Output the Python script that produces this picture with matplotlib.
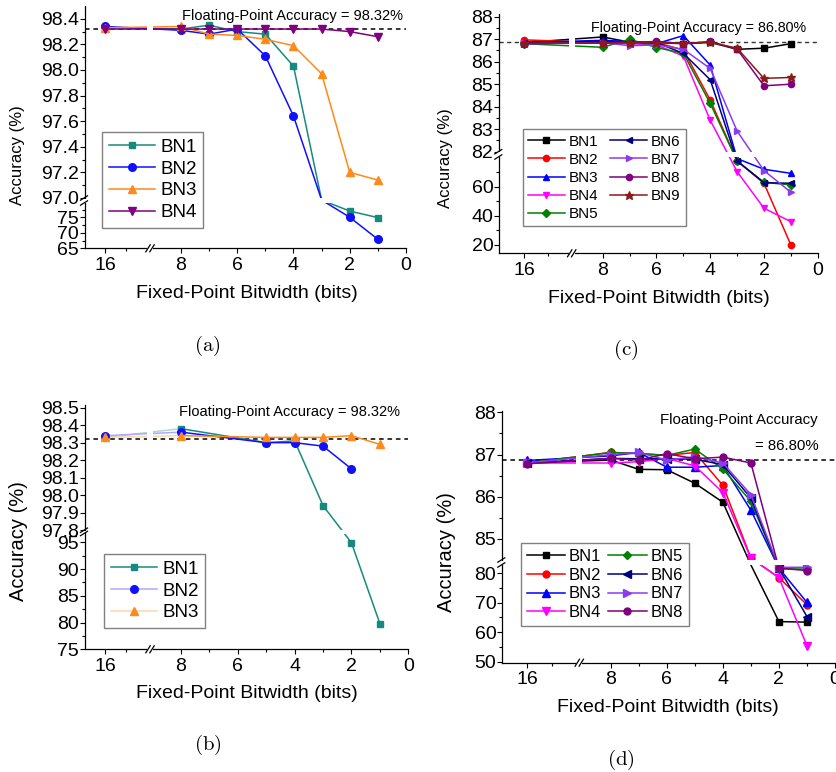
import numpy as np
import matplotlib.pyplot as plt
from matplotlib.lines import Line2D
from matplotlib.patches import Rectangle
from matplotlib.colors import to_rgb

plt.rcParams['font.family'] = ['Liberation Sans', 'DejaVu Sans']
plt.rcParams['mathtext.fontset'] = 'cm'

W, H = 836, 772

# ---- data ----
names_ab = ["BN1", "BN2", "BN3", "BN4"]
names_cd = ["BN1", "BN2", "BN3", "BN4", "BN5", "BN6", "BN7", "BN8", "BN9"]

# (a)  (value at 3 bits for BN1/BN2 lies inside the axis break)
bits_a = [16, 8, 7, 6, 5, 4, 3, 2, 1]
a_bn1 = [98.33, 98.32, 98.35, 98.30, 98.28, 98.03, 90.0, 77.0, 74.9]
a_bn2 = [98.34, 98.31, 98.28, 98.32, 98.11, 97.64, 90.0, 75.0, 67.9]
a_bn3 = [98.33, 98.34, 98.28, 98.27, 98.24, 98.19, 97.97, 97.20, 97.14]
a_bn4 = [98.32, 98.32, 98.32, 98.32, 98.32, 98.32, 98.32, 98.30, 98.26]

# (b)
bits_b = [16, 8, 5, 4, 3, 2, 1]
bits_b_bn2 = [16, 8, 5, 4, 3, 2]
b_bn1 = [98.33, 98.38, 98.30, 98.31, 97.94, 94.9, 79.8]
b_bn2 = [98.34, 98.36, 98.30, 98.30, 98.28, 98.15]
b_bn3 = [98.33, 98.34, 98.33, 98.33, 98.33, 98.34, 98.29]

# (c)
bits_cd = [16, 8, 7, 6, 5, 4, 3, 2, 1]
c_bn1 = [86.85, 87.10, 86.87, 86.85, 86.80, 86.86, 86.55, 86.60, 86.80]
c_bn2 = [86.97, 86.85, 86.85, 86.85, 86.52, 84.30, 77.6, 62.3, 20.1]
c_bn3 = [86.85, 86.95, 86.90, 86.80, 87.16, 85.85, 79.2, 71.9, 69.1]
c_bn4 = [86.82, 86.85, 86.80, 86.75, 86.25, 83.40, 70.3, 45.2, 36.0]
c_bn5 = [86.80, 86.64, 87.00, 86.63, 86.37, 84.15, 77.6, 62.9, 61.2]
c_bn6 = [86.85, 86.90, 86.85, 86.85, 86.37, 85.20, 77.6, 62.7, 62.3]
c_bn7 = [86.80, 86.85, 86.71, 86.75, 86.55, 85.70, 82.92, 71.0, 56.2]
c_bn8 = [86.80, 86.85, 86.85, 86.90, 86.80, 86.90, 86.56, 84.93, 85.00]
c_bn9 = [86.82, 86.82, 86.85, 86.85, 86.82, 86.86, 86.60, 85.26, 85.30]

# (d)
d_bn1 = [86.80, 86.87, 86.65, 86.64, 86.32, 85.87, 82.8, 63.6, 63.4]
d_bn2 = [86.80, 87.05, 87.03, 86.98, 87.05, 86.27, 84.55, 78.5, 69.3]
d_bn3 = [86.86, 86.97, 87.05, 86.70, 86.70, 86.74, 85.68, 81.7, 70.1]
d_bn4 = [86.80, 86.80, 86.83, 86.91, 86.73, 86.10, 84.54, 78.5, 55.4]
d_bn5 = [86.80, 87.05, 87.02, 86.98, 87.13, 86.66, 85.89, 81.5, 81.4]
d_bn6 = [86.80, 86.91, 86.90, 86.90, 86.89, 86.76, 85.97, 81.7, 65.3]
d_bn7 = [86.80, 87.00, 87.05, 86.87, 86.95, 86.80, 86.05, 82.0, 82.0]
d_bn8 = [86.78, 86.91, 86.87, 87.02, 86.90, 86.94, 86.80, 81.7, 80.9]

fp_ab = 98.32
fp_cd = 86.86
fp_text_ab = "Floating-Point Accuracy = 98.32%"
fp_text_c = "Floating-Point Accuracy = 86.80%"

x_major = [16, 8, 6, 4, 2, 0]
x_minor = [15, 7, 5, 3, 1]

a_yticks = [65, 70, 75, 97.0, 97.2, 97.4, 97.6, 97.8, 98.0, 98.2, 98.4]
a_ylabels = ["65", "70", "75", "97.0", "97.2", "97.4", "97.6", "97.8", "98.0", "98.2", "98.4"]
a_yminor = [67.5, 72.5, 77.5, 97.1, 97.3, 97.5, 97.7, 97.9, 98.1, 98.3]
b_yticks = [75, 80, 85, 90, 95, 97.8, 97.9, 98.0, 98.1, 98.2, 98.3, 98.4, 98.5]
b_ylabels = ["75", "80", "85", "90", "95", "97.8", "97.9", "98.0", "98.1", "98.2", "98.3", "98.4", "98.5"]
b_yminor = [77.5, 82.5, 87.5, 92.5]
c_yticks = [20, 40, 60, 82, 83, 84, 85, 86, 87, 88]
c_ylabels = ["20", "40", "60", "82", "83", "84", "85", "86", "87", "88"]
c_yminor = [30, 50, 70, 82.5, 83.5, 84.5, 85.5, 86.5, 87.5]
d_yticks = [50, 60, 70, 80, 85, 86, 87, 88]
d_ylabels = ["50", "60", "70", "80", "85", "86", "87", "88"]
d_yminor = [55, 65, 75, 85.5, 86.5, 87.5]

colors_ab = ["#178a80", "#1010ff", "#ff8a1c", "#800080"]
colors_cd = ["#000000", "#ff0000", "#0000ff", "#ff00ff", "#008000",
             "#000080", "#8c3cf0", "#800080", "#8b1a1a"]
markers = ["s", "o", "^", "v", "D", "<", ">", "o", "*"]
msizes = [4.5, 5, 5.5, 5.5, 4, 5.5, 5.5, 5, 7]

fig = plt.figure(figsize=(W / 100, H / 100), dpi=100)


def piecewise(dk, tk):
    d = np.asarray(dk, float)
    t = np.asarray(tk, float)
    s0 = (t[1] - t[0]) / (d[1] - d[0])
    s1 = (t[-1] - t[-2]) / (d[-1] - d[-2])
    d = np.r_[d[0] - 1000, d, d[-1] + 1000]
    t = np.r_[t[0] - 1000 * s0, t, t[-1] + 1000 * s1]
    return (lambda v: np.interp(v, d, t)), (lambda v: np.interp(v, t, d))


def slash(xc, yc, dx, dy):
    fig.add_artist(Line2D([(xc - dx) / W, (xc + dx) / W],
                          [1 - (yc + dy) / H, 1 - (yc - dy) / H],
                          color="k", lw=0.9, zorder=10))


def cover(x0, y0, x1, y1):
    fig.add_artist(Rectangle((x0 / W, 1 - y1 / H), (x1 - x0) / W, (y1 - y0) / H,
                             transform=fig.transFigure, color="white", lw=0, zorder=9))


def make_panel(box, xg, yg, yticks, ylabels, yminor):
    L, R, T, B = box
    p0, p8, pb, p16, sl = xg
    ax = fig.add_axes([L / W, 1 - B / H, (R - L) / W, (B - T) / H])
    s = (p0 - p8) / 8
    g = 3
    x_lo = (p0 - pb - g) / s
    x_hi = 16 - (pb - g - p16) / sl
    ax.set_xscale("function", functions=piecewise(
        [0, x_lo, x_hi, 16], [0, p0 - pb - g, p0 - pb + g, p0 - p16]))
    ax.set_xlim(16 + (p16 - L) / sl, -(R - p0) / s)
    (v0, q0), (v1, q1), (v2, q2), (v3, q3) = yg
    ax.set_yscale("function", functions=piecewise(
        [v0, v1, v2, v3], [B - q0, B - q1, B - q2, B - q3]))
    ax.set_ylim(v0, v3)

    # white gaps where the axis is broken
    ax.axvspan(x_lo, x_hi, color="white", lw=0, zorder=2.2)
    ax.axhspan(v1, v2, color="white", lw=0, zorder=2.2)

    ax.set_xticks(x_major)
    ax.set_xticklabels([str(v) for v in x_major])
    ax.set_xticks(x_minor, minor=True)
    ax.set_yticks(yticks)
    ax.set_yticklabels(ylabels)
    ax.set_yticks(yminor, minor=True)
    ax.tick_params(which="both", direction="out", width=0.8, labelsize=14)
    ax.tick_params(which="major", length=3.3)
    ax.tick_params(which="minor", length=2.0)
    ax.tick_params(axis="y", pad=1)
    ax.tick_params(axis="x", pad=3)
    for sp in ["top", "right"]:
        ax.spines[sp].set_visible(False)
    for sp in ["left", "bottom"]:
        ax.spines[sp].set_linewidth(0.9)

    # break marks on the axes
    cover(pb - 3, B - 2, pb + 3, B + 2)
    slash(pb - 2, B, 2.2, 3.5)
    slash(pb + 2, B, 2.2, 3.5)
    cover(L - 2, q2 + 0.5, L + 2, q1 - 0.5)
    slash(L - 1, q2, 3.5, 2.2)
    slash(L - 1, q1, 3.5, 2.2)
    return ax, v1, v2


def draw_series(ax, x, y, color, marker, ms, label, gap):
    lo, hi = gap
    show = [not (lo < v < hi) for v in y]
    ax.plot(x, y, color=color, lw=1.1, marker=marker, ms=ms, markevery=show,
            label=label, zorder=2)


def legend(ax, x, y, size, ncol, hl, ls, cs=0.8, handles=None):
    kw = dict(loc="upper left", bbox_to_anchor=(x / W, 1 - y / H),
              bbox_transform=fig.transFigure, borderaxespad=0, fancybox=False,
              edgecolor="#808080", framealpha=1, fontsize=size, ncol=ncol,
              handlelength=hl, handletextpad=0.25, labelspacing=ls,
              borderpad=0.35, columnspacing=cs)
    if handles is not None:
        leg = ax.legend(handles=handles, **kw)
    else:
        leg = ax.legend(**kw)
    leg.get_frame().set_linewidth(1.0)
    return leg


def ftext(x, y, s, size, ha="center", rot=0, **kw):
    fig.text(x / W, 1 - y / H, s, fontsize=size, ha=ha, va="center", rotation=rot, **kw)


# ---------------- (a) ----------------
ax, g0, g1 = make_panel((85, 406, 6, 248.3), (406, 181, 150, 105.3, 21),
                        [(65, 248.3), (79.6, 203), (97.0, 198), (98.5, 6)],
                        a_yticks, a_ylabels, a_yminor)
ax.axhline(fp_ab, color="k", lw=1.1, ls=(0, (3, 2.5)), zorder=1.9)
for i, vals in enumerate([a_bn1, a_bn2, a_bn3, a_bn4]):
    draw_series(ax, bits_a, vals, colors_ab[i], ["s", "o", "^", "v"][i],
                [4.5, 5.5, 5.5, 5.5][i], names_ab[i], (g0, g1))
legend(ax, 102, 132, 13.5, 1, 2.5, 0.25)
ftext(403, 15.7, fp_text_ab, 10.5, ha="right")
ftext(18, 155, "Accuracy (%)", 12, rot=90)
ftext(247, 294, "Fixed-Point Bitwidth (bits)", 14)
ftext(207, 346, r"$\mathrm{(a)}$", 15)

# ---------------- (b) ----------------
ax, g0, g1 = make_panel((85, 408.3, 405, 649.3), (408.3, 181, 150, 105.3, 21),
                        [(75, 649.3), (96.64, 533.5), (97.8, 530.2), (98.515, 405)],
                        b_yticks, b_ylabels, b_yminor)
ax.axhline(fp_ab, color="k", lw=1.1, ls=(0, (3, 2.5)), zorder=1.9)


def pale(c, k=0.35):
    r = np.array(to_rgb(c))
    return tuple(k * r + (1 - k) * np.ones(3))


b_handles = []
for i, (xs, vals) in enumerate([(bits_b, b_bn1), (bits_b_bn2, b_bn2), (bits_b, b_bn3)]):
    c = colors_ab[i]
    m = ["s", "o", "^"][i]
    ms = [4.5, 5.5, 5.5][i]
    ax.plot(xs[:2], vals[:2], color=pale(c), lw=1.1, zorder=1.95)
    ax.plot(xs[1:], vals[1:], color=c, lw=1.1, marker=m, ms=ms, zorder=2)
    ax.plot(xs[:1], vals[:1], color=c, ls="none", marker=m, ms=ms, zorder=2)
    lc = c if i == 0 else pale(c)
    b_handles.append(Line2D([], [], color=lc, lw=1.1, marker=m, ms=ms,
                            mfc=c, mec=c, label=names_ab[i]))
legend(ax, 104, 554, 13.5, 1, 2.5, 0.25, handles=b_handles)
ftext(400, 411.7, fp_text_ab, 10.5, ha="right")
ftext(19, 541, "Accuracy (%)", 14.5, rot=90)
ftext(247, 693, "Fixed-Point Bitwidth (bits)", 14)
ftext(208, 745, r"$\mathrm{(b)}$", 15)

# ---------------- (c) ----------------
ax, g0, g1 = make_panel((499.3, 817.7, 14, 253.3), (817.7, 602.7, 571.7, 524, 24),
                        [(14.3, 253.3), (80.3, 157), (82, 151.7), (88.12, 14)],
                        c_yticks, c_ylabels, c_yminor)
ax.axhline(fp_cd, color="#333333", lw=1.0, ls=(0, (3, 2.5)), zorder=1.9)
c_all = [c_bn1, c_bn2, c_bn3, c_bn4, c_bn5, c_bn6, c_bn7, c_bn8, c_bn9]
for i, vals in enumerate(c_all):
    draw_series(ax, bits_cd, vals, colors_cd[i], markers[i], msizes[i] * 0.9,
                names_cd[i], (g0, g1))
legend(ax, 522.7, 129.3, 11, 2, 2.4, 0.27, cs=0.8)
ftext(806, 27.7, fp_text_c, 10.3, ha="right")
ftext(446, 158, "Accuracy (%)", 12, rot=90)
ftext(659, 298, "Fixed-Point Bitwidth (bits)", 14)
ftext(626, 350, r"$\mathrm{(c)}$", 15)

# ---------------- (d) ----------------
ax, g0, g1 = make_panel((502.3, 836, 410.7, 662.7), (835, 610.7, 579.3, 527.3, 25),
                        [(49.66, 662.7), (82.78, 565), (84.5, 560), (88.04, 410.7)],
                        d_yticks, d_ylabels, d_yminor)
ax.axhline(fp_cd, color="k", lw=1.1, ls=(0, (3, 2.5)), zorder=1.9)
d_all = [d_bn1, d_bn2, d_bn3, d_bn4, d_bn5, d_bn6, d_bn7, d_bn8]
for i, vals in enumerate(d_all):
    draw_series(ax, bits_cd, vals, colors_cd[i], markers[i], msizes[i],
                names_cd[i], (g0, g1))
legend(ax, 520.7, 543.3, 12, 2, 2.3, 0.22, cs=0.4)
ftext(818, 420, "Floating-Point Accuracy", 10.8, ha="right")
ftext(819, 445.7, "= 86.80%", 10.8, ha="right")
ftext(447, 552, "Accuracy (%)", 14.5, rot=90)
ftext(668, 708, "Fixed-Point Bitwidth (bits)", 14)
ftext(621, 760, r"$\mathrm{(d)}$", 15)

fig.savefig("out.png", dpi=100)
